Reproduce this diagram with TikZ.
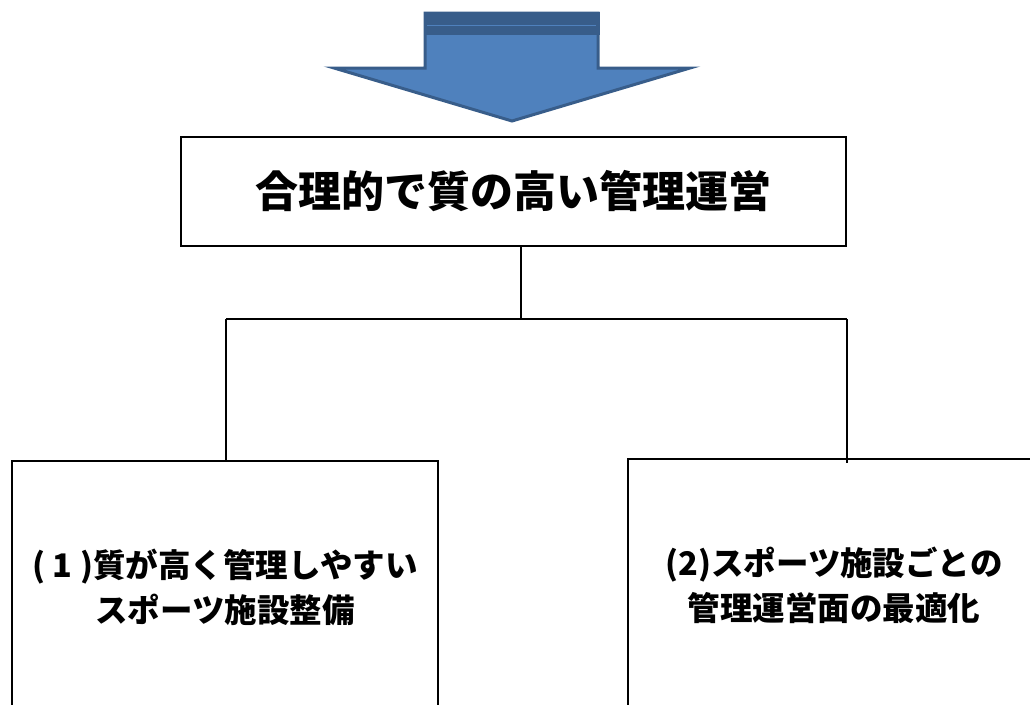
\documentclass[tikz,border=0pt]{standalone}
\usepackage{fontspec}
\newfontfamily\jpfont{Noto Sans CJK JP}
\usetikzlibrary{positioning}
\definecolor{arrowfill}{RGB}{79,129,189}
\definecolor{arrowline}{RGB}{56,93,138}

\begin{document}
\begin{tikzpicture}[
  x=1pt, y=-1pt,
  box/.style={draw, line width=1.4pt, align=center, inner sep=0pt},
  goalfont/.style={font=\jpfont\bfseries\fontsize{43}{48}\selectfont},
  itemfont/.style={font=\jpfont\bfseries\fontsize{32.5}{45}\selectfont},
  wire/.style={line width=2.2pt}
]
\useasboundingbox (0,0) rectangle (1030,704);
\clip (0,0) rectangle (1030,704);

% big down arrow
\filldraw[fill=arrowfill, draw=arrowline, line width=3pt, line join=miter]
  (425,13) -- (598,13) -- (598,68) -- (690,68) -- (512,121) -- (334,68) -- (425,68) -- cycle;
\fill[arrowline] (423.5,12) rectangle (599.5,35);
\draw[arrowfill, line width=0.8pt] (427,25) -- (596,25);

\node[box, goalfont, minimum width=665pt, minimum height=109pt] (goal) at (513.5,191.5) {合理的で質の高い管理運営};
\node[box, itemfont, minimum width=426pt, minimum height=252pt] (left) at (225,587) {( 1 )質が高く管理しやすい\\スポーツ施設整備};
\node[box, itemfont, minimum width=412pt, minimum height=252pt] (right) at (834,585) {(2)スポーツ施設ごとの\\管理運営面の最適化};

\coordinate (split) at (521,319);
\coordinate (lt) at (226,319);
\coordinate (rt) at (847,319);
\draw[wire] (goal.south -| split) -- (split);
\draw[wire] (lt) -- (rt);
\draw[wire] (lt) -- (lt |- left.north);
\draw[wire] (rt) -- ([yshift=-5pt]rt |- right.north);
\end{tikzpicture}
\end{document}
